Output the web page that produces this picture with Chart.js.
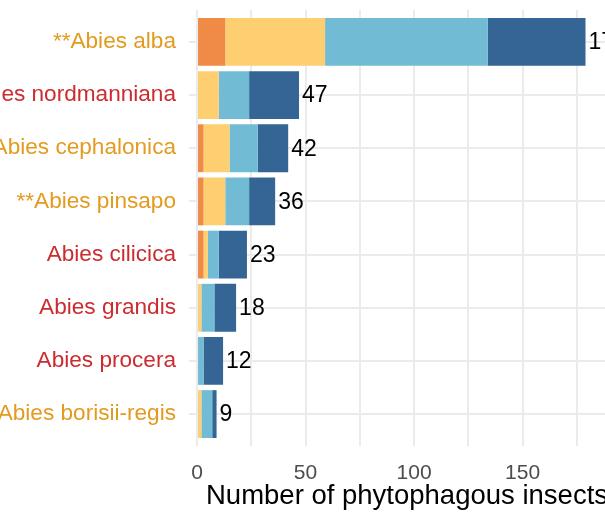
<!DOCTYPE html>
<html>
<head>
<meta charset="utf-8">
<script src="https://cdn.jsdelivr.net/npm/chart.js@4"></script>
<style>
  html, body { margin: 0; padding: 0; background: #fff; overflow: hidden; }
  #wrap { width: 625px; height: 513px; }
</style>
</head>
<body>
<div id="wrap"><canvas id="chart" width="625" height="513"></canvas></div>
<script>
// Fir species, top to bottom
const CATEGORIES = [
  '**Abies alba', 'Abies nordmanniana', 'Abies cephalonica', '**Abies pinsapo',
  'Abies cilicica', 'Abies grandis', 'Abies procera', 'Abies borisii-regis',
];
// label colour group per species
const LABEL_GROUP = ['o', 'r', 'o', 'o', 'r', 'r', 'r', 'o'];

// stacked segments, left to right
const SEG_ORANGE    = [13, 0, 3, 3, 3, 0, 0, 0];
const SEG_YELLOW    = [46, 10, 12, 10, 2, 2, 0, 2];
const SEG_LIGHTBLUE = [75, 14, 13, 11, 5, 6, 3, 5];
const SEG_DARKBLUE  = [45, 23, 14, 12, 13, 10, 9, 2];

const X_TICKS = [0, 25, 50, 75, 100, 125, 150, 175];
const X_TITLE = 'Number of phytophagous insects';

const GROUP_COLORS = { o: '#E39A1F', r: '#CC2B2F' };
const FONT = "'Liberation Sans', Arial, sans-serif";

const toPoints = (arr) => arr.map((v, i) => ({ x: v, y: i }));

const series = [
  { data: SEG_ORANGE,    color: '#EF8A47' },
  { data: SEG_YELLOW,    color: '#FDCF70' },
  { data: SEG_LIGHTBLUE, color: '#72BBD5' },
  { data: SEG_DARKBLUE,  color: '#356594' },
];

// totals printed at bar ends
const totalsPlugin = {
  id: 'totals',
  afterDatasetsDraw(chart) {
    const { ctx, scales: { x, y } } = chart;
    ctx.save();
    ctx.font = `23px ${FONT}`;
    ctx.fillStyle = '#000';
    ctx.textAlign = 'left';
    ctx.textBaseline = 'middle';
    CATEGORIES.forEach((_, i) => {
      const total = series.reduce((s, d) => s + d.data[i], 0);
      ctx.fillText(String(total), x.getPixelForValue(total) + 3, y.getPixelForValue(i) + 1);
    });
    ctx.restore();
  }
};

new Chart(document.getElementById('chart'), {
  type: 'bar',
  data: {
    datasets: series.map((s) => ({
      data: toPoints(s.data),
      backgroundColor: s.color,
      borderWidth: 0,
      barPercentage: 1,
      categoryPercentage: 0.9,
    })),
  },
  options: {
    indexAxis: 'y',
    responsive: false,
    devicePixelRatio: 1,
    animation: false,
    layout: { padding: { top: 10, left: 0, right: 0, bottom: 0 } },
    plugins: { legend: { display: false }, tooltip: { enabled: false } },
    scales: {
      x: {
        type: 'linear',
        stacked: true,
        min: -3.7,
        max: 197.2,
        afterBuildTicks: (scale) => { scale.ticks = X_TICKS.map((v) => ({ value: v })); },
        afterFit: (scale) => {
          scale.height = 67;
          scale.paddingLeft = 0;
          scale.paddingRight = 0;
        },
        grid: { color: '#EBEBEB', lineWidth: 2, drawTicks: false },
        border: { display: false },
        ticks: {
          autoSkip: false,
          maxRotation: 0,
          padding: 15,
          color: '#4D4D4D',
          font: { family: FONT, size: 21 },
          callback: (v) => (v % 50 === 0 ? String(v) : ''),
        },
        title: {
          display: true,
          text: X_TITLE,
          color: '#000',
          font: { family: FONT, size: 27.5 },
          padding: { top: 0, bottom: 0 },
        },
      },
      y: {
        type: 'linear',
        stacked: true,
        reverse: true,
        offset: false,
        min: -0.6,
        max: 7.6,
        afterBuildTicks: (scale) => { scale.ticks = CATEGORIES.map((_, i) => ({ value: i })); },
        afterFit: (scale) => {
          scale.width = 189;
          scale.paddingTop = 0;
          scale.paddingBottom = 0;
        },
        grid: { color: '#EBEBEB', lineWidth: 2, drawTicks: false, offset: false },
        border: { display: false },
        ticks: {
          autoSkip: false,
          padding: 13,
          font: { family: FONT, size: 22.6 },
          color: (c) => GROUP_COLORS[LABEL_GROUP[c.index]],
          callback: (v) => CATEGORIES[v],
        },
      },
    },
  },
  plugins: [totalsPlugin],
});
</script>
</body>
</html>
